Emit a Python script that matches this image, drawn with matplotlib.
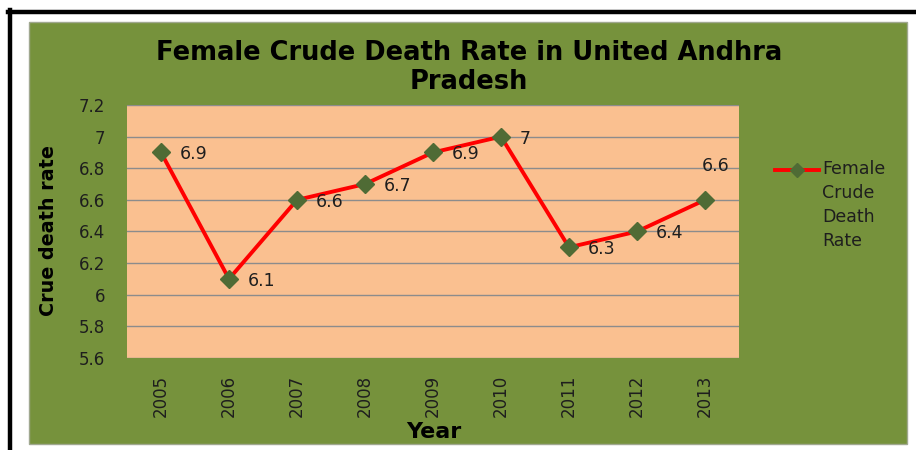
import matplotlib
matplotlib.use("Agg")
import matplotlib.pyplot as plt
from matplotlib.patches import Rectangle
from matplotlib.lines import Line2D

years = ["2005", "2006", "2007", "2008", "2009", "2010", "2011", "2012", "2013"]
rates = [6.9, 6.1, 6.6, 6.7, 6.9, 7.0, 6.3, 6.4, 6.6]
rate_labels = ["6.9", "6.1", "6.6", "6.7", "6.9", "7", "6.3", "6.4", "6.6"]
y_ticks = [5.6, 5.8, 6.0, 6.2, 6.4, 6.6, 6.8, 7.0, 7.2]
y_tick_labels = ["5.6", "5.8", "6", "6.2", "6.4", "6.6", "6.8", "7", "7.2"]

W, H = 916, 450
fig = plt.figure(figsize=(W / 100, H / 100), dpi=100)
fig.patch.set_facecolor("white")

def fx(px):
    return px / W

def fy(py):
    return 1 - py / H

GREEN = "#76923C"
PEACH = "#FAC090"
RED = "#FF0000"
MARK = "#4F6B35"
TXT = "#1E1E1E"

# chart area background
fig.add_artist(Rectangle((fx(29), fy(444)), fx(907) - fx(29), fy(22) - fy(444),
                         transform=fig.transFigure, facecolor=GREEN,
                         edgecolor="#A0A890", linewidth=1.0, zorder=0))
# black frame lines (top and left)
fig.add_artist(Line2D([fx(8), fx(916)], [fy(11.5), fy(11.5)], color="black",
                      linewidth=3.2, transform=fig.transFigure))
fig.add_artist(Line2D([fx(10), fx(10)], [fy(10), fy(450)], color="black",
                      linewidth=3.2, transform=fig.transFigure))

ax = fig.add_axes([fx(127), fy(358), fx(739) - fx(127), fy(105) - fy(358)])
ax.set_facecolor(PEACH)
x = list(range(len(years)))
ax.plot(x, rates, color=RED, linewidth=2.8, marker="D", markersize=9.5,
        markerfacecolor=MARK, markeredgecolor=MARK, zorder=3)

ax.set_xlim(-0.5, len(years) - 0.5)
ax.set_ylim(5.6, 7.2)
ax.set_yticks(y_ticks)
ax.set_yticklabels(y_tick_labels)
ax.set_xticks(x)
ax.set_xticklabels(years, rotation=90)
ax.tick_params(axis="both", length=0, labelsize=12, colors=TXT)
ax.tick_params(axis="y", pad=15.5)
ax.tick_params(axis="x", pad=12)
for s in ax.spines.values():
    s.set_visible(False)
ax.grid(axis="y", color="#8C8C8C", linewidth=1.0)
ax.set_axisbelow(True)

for i, (v, lab) in enumerate(zip(rates, rate_labels)):
    if i == len(rates) - 1:
        ax.annotate(lab, (i, v), xytext=(-3, 25), textcoords="offset pixels",
                    ha="left", va="bottom", fontsize=12.5, color=TXT)
    else:
        ax.annotate(lab, (i, v), xytext=(19, -2), textcoords="offset pixels",
                    ha="left", va="center", fontsize=12.5, color=TXT)

ax.set_xlabel("Year", fontsize=16, fontweight="bold", color="black", labelpad=2)
ax.set_ylabel("Crue death rate", fontsize=13.8, fontweight="bold", color="black")
ax.xaxis.set_label_coords((434 - 127) / (739 - 127), (358 - 432) / (358 - 105), transform=ax.transAxes)
ax.xaxis.label.set_va("center")
ax.yaxis.set_label_coords((49 - 127) / (739 - 127), (358 - 231) / (358 - 105), transform=ax.transAxes)
ax.yaxis.label.set_va("center")

fig.text(fx(469), fy(67.5), "Female Crude Death Rate in United Andhra\nPradesh",
         ha="center", va="center", fontsize=18.5, fontweight="bold", color="black",
         linespacing=1.12)

# legend
fig.add_artist(Line2D([fx(775), fx(797), fx(819)], [fy(170), fy(170), fy(170)],
                      color=RED, linewidth=2.8, marker="D", markersize=7,
                      markevery=[1], markerfacecolor=MARK, markeredgecolor=MARK,
                      transform=fig.transFigure))
fig.text(fx(822), fy(160), "Female\nCrude\nDeath\nRate", ha="left", va="top",
         fontsize=12.5, color=TXT, linespacing=1.42)

fig.savefig("out.png", dpi=100, facecolor="white")
